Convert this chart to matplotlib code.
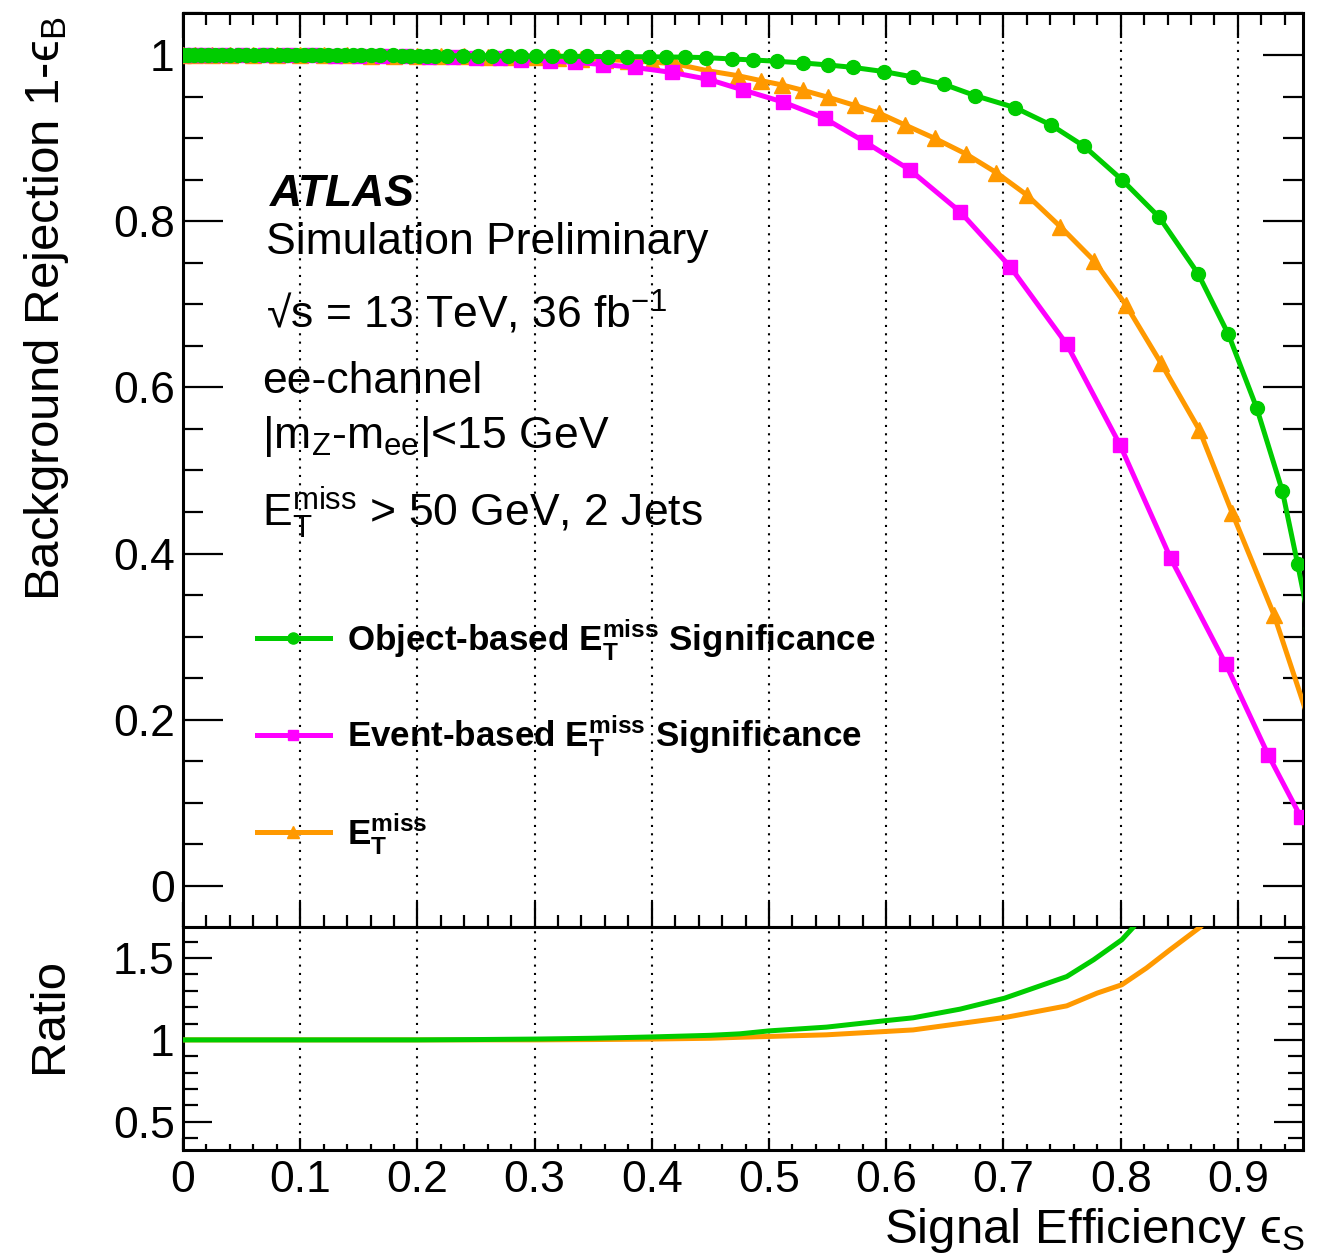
import numpy as np
import matplotlib
matplotlib.use("Agg")
import matplotlib.pyplot as plt
from matplotlib.ticker import MultipleLocator, FuncFormatter
from matplotlib.lines import Line2D

plt.rcParams['font.family'] = ['Liberation Sans', 'DejaVu Sans']
plt.rcParams['mathtext.fontset'] = 'custom'
plt.rcParams['mathtext.rm'] = 'Liberation Sans'
plt.rcParams['mathtext.it'] = 'Liberation Sans:italic'
plt.rcParams['mathtext.bf'] = 'Liberation Sans:bold'
plt.rcParams['mathtext.fallback'] = 'stixsans'

# ROC curves: signal efficiency vs background rejection
obj_eff = [0.000, 0.004, 0.009, 0.015, 0.021, 0.027, 0.033, 0.040, 0.047, 0.054,
           0.061, 0.068, 0.075, 0.082, 0.089, 0.096, 0.103, 0.110, 0.117, 0.124,
           0.131, 0.138, 0.145, 0.152, 0.160, 0.168, 0.179, 0.187, 0.194, 0.201,
           0.208, 0.215, 0.225, 0.239, 0.252, 0.264, 0.277, 0.288, 0.301, 0.315,
           0.330, 0.345, 0.363, 0.379, 0.398, 0.412, 0.428, 0.446, 0.468, 0.486,
           0.507, 0.529, 0.550, 0.572, 0.598, 0.623, 0.649, 0.676, 0.710, 0.741,
           0.769, 0.801, 0.833, 0.866, 0.892, 0.916, 0.938, 0.951, 0.962]
obj_rej = [1.0000, 1.0000, 1.0000, 1.0000, 1.0000, 1.0000, 1.0000, 0.9999, 0.9999, 0.9999,
           0.9999, 0.9999, 0.9998, 0.9998, 0.9998, 0.9998, 0.9997, 0.9997, 0.9997, 0.9996,
           0.9996, 0.9996, 0.9995, 0.9995, 0.9995, 0.9994, 0.9994, 0.9993, 0.9993, 0.9992,
           0.9992, 0.9991, 0.9991, 0.9990, 0.9990, 0.9989, 0.9988, 0.9987, 0.9986, 0.9985,
           0.9984, 0.9983, 0.9981, 0.9980, 0.9978, 0.9976, 0.9974, 0.9968, 0.9952, 0.9940,
           0.9924, 0.9904, 0.9880, 0.9850, 0.9800, 0.9735, 0.9648, 0.9510, 0.9366, 0.9154,
           0.8900, 0.8500, 0.8047, 0.7370, 0.6637, 0.5756, 0.4753, 0.3875, 0.3100]

evt_eff = [0.000, 0.010, 0.020, 0.035, 0.050, 0.070, 0.090, 0.110, 0.130, 0.150,
           0.170, 0.190, 0.210, 0.230, 0.250, 0.2705, 0.2884, 0.313, 0.3345, 0.3587,
           0.3857, 0.417, 0.4482, 0.4777, 0.5119, 0.5474, 0.5823, 0.6203, 0.663, 0.7057,
           0.754, 0.7995, 0.8427, 0.8897, 0.926, 0.9536]
evt_rej = [1.0000, 0.9999, 0.9999, 0.9998, 0.9998, 0.9997, 0.9996, 0.9994, 0.9992, 0.9990,
           0.9987, 0.9984, 0.9980, 0.9975, 0.9968, 0.9958, 0.9945, 0.9928, 0.9910, 0.9885,
           0.9850, 0.9790, 0.9707, 0.9579, 0.9434, 0.9238, 0.8950, 0.8616, 0.8114, 0.7453,
           0.6520, 0.5307, 0.3943, 0.2671, 0.1576, 0.0834]

met_eff = [0.000, 0.010, 0.025, 0.040, 0.060, 0.080, 0.100, 0.120, 0.140, 0.160,
           0.180, 0.200, 0.220, 0.240, 0.260, 0.280, 0.300, 0.320, 0.340, 0.360,
           0.380, 0.400, 0.420, 0.4478, 0.4733, 0.4932, 0.5109, 0.529, 0.5507, 0.573,
           0.5939, 0.616, 0.6413, 0.668, 0.694, 0.720, 0.7486, 0.7773, 0.8046, 0.8345,
           0.8672, 0.8953, 0.9309, 0.970]
met_rej = [1.0000, 1.0000, 1.0000, 0.9999, 0.9999, 0.9998, 0.9997, 0.9996, 0.9995, 0.9993,
           0.9991, 0.9989, 0.9986, 0.9983, 0.9980, 0.9976, 0.9970, 0.9963, 0.9955, 0.9945,
           0.9932, 0.9915, 0.9893, 0.9810, 0.9751, 0.9691, 0.9640, 0.9575, 0.9490, 0.9394,
           0.9300, 0.9158, 0.8997, 0.8809, 0.8584, 0.8315, 0.7934, 0.7525, 0.6990, 0.6290,
           0.5487, 0.4485, 0.3261, 0.1600]

# ratio to the event-based curve
ratio_obj_eff = [0.0, 0.1, 0.2, 0.25, 0.3, 0.35, 0.4, 0.45, 0.475, 0.5, 0.549, 0.6,
                 0.623, 0.663, 0.701, 0.754, 0.777, 0.801, 0.811, 0.82]
ratio_obj = [1.0, 1.0, 1.0, 1.002, 1.005, 1.010, 1.018, 1.028, 1.037, 1.055, 1.078, 1.118,
             1.135, 1.188, 1.255, 1.387, 1.49, 1.612, 1.69, 1.78]
ratio_met_eff = [0.0, 0.1, 0.2, 0.3, 0.35, 0.4, 0.45, 0.475, 0.549, 0.623, 0.703, 0.754,
                 0.78, 0.801, 0.822, 0.842, 0.868, 0.88]
ratio_met = [1.0, 1.0, 1.0, 1.0, 1.002, 1.005, 1.010, 1.016, 1.031, 1.061, 1.139, 1.208,
             1.286, 1.337, 1.439, 1.55, 1.69, 1.78]

green = '#00cc00'
magenta = '#ff00ff'
orange = '#ff9900'

W, H = 1326, 1259
fig = plt.figure(figsize=(W / 100, H / 100), dpi=100)

def fx(px):
    return px / W

def fy(py):
    return 1 - py / H

ax = fig.add_axes([fx(183), fy(927), fx(1303) - fx(183), fy(13) - fy(927)])
axr = fig.add_axes([fx(183), fy(1150), fx(1303) - fx(183), fy(927) - fy(1150)], sharex=ax)

lw = 3.6
ax.plot(met_eff, met_rej, color=orange, lw=lw, marker='^', ms=11, mec=orange, zorder=3)
ax.plot(evt_eff, evt_rej, color=magenta, lw=lw, marker='s', ms=9.5, mec=magenta, zorder=4)
ax.plot(obj_eff, obj_rej, color=green, lw=lw, marker='o', ms=10, mec=green, zorder=5)

axr.plot(ratio_met_eff, ratio_met, color=orange, lw=lw, zorder=3)
axr.plot(ratio_obj_eff, ratio_obj, color=green, lw=lw, zorder=4)

ax.set_xlim(0, 0.9556)
ax.set_ylim(-0.0493, 1.0505)
axr.set_ylim(0.327, 1.69)

fmt = FuncFormatter(lambda v, p: '%g' % round(v, 3))
tick_font = 32

ax.xaxis.set_major_locator(MultipleLocator(0.1))
ax.xaxis.set_minor_locator(MultipleLocator(0.02))
ax.yaxis.set_major_locator(MultipleLocator(0.2))
ax.yaxis.set_minor_locator(MultipleLocator(0.05))
ax.yaxis.set_major_formatter(fmt)
ax.tick_params(axis='x', which='major', direction='in', top=True, bottom=True,
               length=18, width=1.6, labelbottom=False)
ax.tick_params(axis='x', which='minor', direction='in', top=True, bottom=True,
               length=8.6, width=1.6)
ax.tick_params(axis='y', which='major', direction='in', left=True, right=True,
               length=29, width=1.6, labelsize=tick_font, pad=6)
ax.tick_params(axis='y', which='minor', direction='in', left=True, right=True,
               length=14.4, width=1.6)

axr.yaxis.set_major_locator(MultipleLocator(0.5))
axr.yaxis.set_minor_locator(MultipleLocator(0.1))
axr.yaxis.set_major_formatter(fmt)
axr.xaxis.set_major_formatter(fmt)
axr.tick_params(axis='x', which='major', direction='in', top=False, bottom=True,
                length=8.6, width=1.6, labelsize=tick_font, pad=7)
axr.tick_params(axis='x', which='minor', direction='in', top=False, bottom=True,
                length=4.3, width=1.6)
axr.tick_params(axis='y', which='major', direction='in', left=True, right=True,
                length=21, width=1.6, labelsize=tick_font, pad=6)
axr.tick_params(axis='y', which='minor', direction='in', left=True, right=True,
                length=10.5, width=1.6)

for a in (ax, axr):
    a.grid(axis='x', which='major', color='black', linestyle=(0, (1, 3)), lw=1.5)
    for s in a.spines.values():
        s.set_linewidth(2.2)

# axis titles
title_font = 35.5
fig.text(fx(47), fy(16), 'Background Rejection 1-\u03f5$_{\\mathrm{B}}$',
         rotation=90, ha='center', va='top', fontsize=title_font)
fig.text(fx(1305), fy(1243), 'Signal Efficiency \u03f5$_{\\mathrm{S}}$',
         ha='right', va='baseline', fontsize=title_font)
fig.text(fx(50), fy(1015), 'Ratio', rotation=90, ha='center', va='center',
         fontsize=title_font)

# labels inside the main pad
lab_font = 32
fig.text(fx(270), fy(206), 'ATLAS', fontsize=lab_font, fontweight='bold',
         fontstyle='italic', va='baseline')
fig.text(fx(266), fy(254), 'Simulation Preliminary', fontsize=lab_font, va='baseline')
fig.text(fx(266), fy(328), '\u221as = 13 TeV, 36 fb$^{\\mathrm{-1}}$',
         fontsize=lab_font, va='baseline')
fig.text(fx(262), fy(393), 'ee-channel', fontsize=lab_font, va='baseline')
fig.text(fx(262), fy(448), r'|m$_{\mathrm{Z}}$-m$_{\mathrm{ee}}$|<15 GeV',
         fontsize=lab_font, va='baseline')
fig.text(fx(262), fy(526), r'E$_{\mathrm{T}}^{\mathrm{miss}}$ > 50 GeV, 2 Jets',
         fontsize=lab_font, va='baseline')

# legend
leg_font = 25.2
entries = [
    (green, 'o', 10, r'Object-based E$_{\mathbf{T}}^{\mathbf{miss}}$ Significance', 638),
    (magenta, 's', 9.5, r'Event-based E$_{\mathbf{T}}^{\mathbf{miss}}$ Significance', 735),
    (orange, '^', 11, r'E$_{\mathbf{T}}^{\mathbf{miss}}$', 832),
]
for col, mk, ms, label, py in entries:
    fig.add_artist(Line2D([fx(257), fx(330)], [fy(py), fy(py)], color=col, lw=lw,
                          transform=fig.transFigure))
    fig.add_artist(Line2D([fx(293)], [fy(py)], color=col, marker=mk, ms=ms * 0.8,
                          mec=col, transform=fig.transFigure))
    fig.text(fx(347), fy(py + 12), label, fontsize=leg_font, fontweight='bold',
             va='baseline')

plt.savefig('out.png', dpi=100)
